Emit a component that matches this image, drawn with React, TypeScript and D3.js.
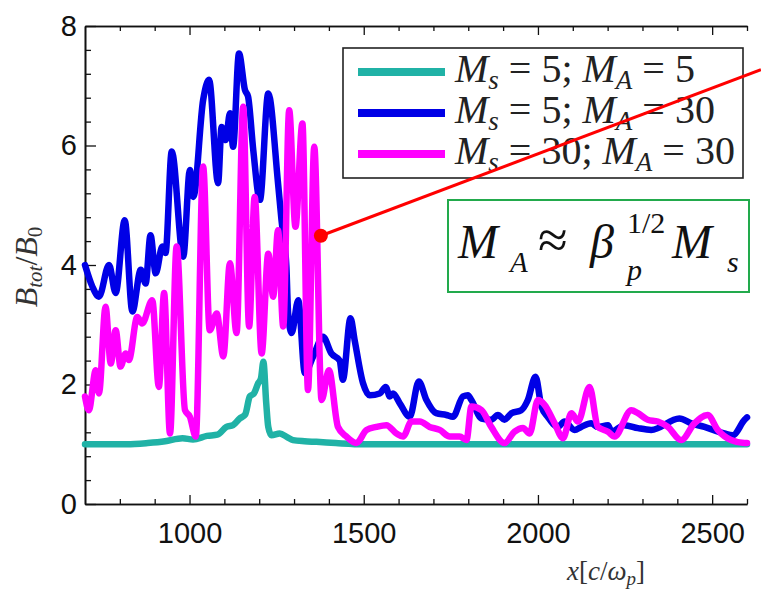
import { useEffect, useRef } from "react";
import * as d3 from "d3";

// x in c/omega_p, y = B_tot / B_0
const tealX = [700, 760, 820, 880, 930, 980, 1010, 1050, 1080, 1106, 1125, 1144, 1160, 1173, 1185, 1197, 1205, 1212, 1220, 1226, 1235, 1259, 1280, 1297, 1330, 1364, 1420, 1500, 1700, 1900, 2100, 2300, 2500, 2600];
const tealY = [1.0, 1.0, 1.0, 1.02, 1.05, 1.1, 1.08, 1.14, 1.16, 1.29, 1.32, 1.43, 1.5, 1.8, 1.85, 2.02, 2.1, 2.38, 1.7, 1.29, 1.15, 1.18, 1.12, 1.07, 1.05, 1.04, 1.02, 1.0, 1.0, 1.0, 1.0, 1.0, 1.0, 1.0];

const blueX = [700, 721, 740, 769, 788, 814, 836, 860, 874, 888, 903, 922, 931, 949, 982, 1001, 1011, 1039, 1056, 1082, 1092, 1104, 1116, 1125, 1142, 1159, 1168, 1183, 1202, 1226, 1254, 1264, 1278, 1283, 1293, 1312, 1331, 1355, 1383, 1407, 1431, 1440, 1462, 1474, 1498, 1517, 1546, 1563, 1575, 1584, 1603, 1632, 1658, 1680, 1708, 1737, 1756, 1785, 1799, 1809, 1838, 1866, 1885, 1904, 1924, 1952, 1971, 1993, 2010, 2028, 2057, 2076, 2105, 2124, 2153, 2172, 2201, 2211, 2248, 2287, 2325, 2406, 2440, 2478, 2535, 2559, 2593, 2600];
const blueY = [4.0, 3.64, 3.47, 4.0, 3.53, 4.75, 3.22, 3.92, 3.69, 4.5, 3.86, 4.31, 4.2, 5.9, 4.14, 5.59, 5.14, 6.76, 7.1, 5.37, 6.31, 6.09, 6.54, 5.98, 7.54, 6.93, 6.82, 5.92, 5.09, 6.87, 5.37, 4.75, 3.97, 3.19, 2.86, 3.41, 2.19, 2.47, 2.8, 2.52, 2.4, 2.08, 3.11, 2.74, 2.02, 1.82, 1.85, 1.96, 1.8, 1.85, 1.69, 1.46, 2.05, 1.74, 1.52, 1.49, 1.46, 1.8, 1.82, 1.74, 1.43, 1.41, 1.49, 1.41, 1.52, 1.57, 1.74, 2.13, 1.63, 1.46, 1.29, 1.38, 1.24, 1.29, 1.35, 1.29, 1.32, 1.21, 1.32, 1.27, 1.24, 1.43, 1.35, 1.29, 1.18, 1.15, 1.41, 1.45];

const magentaX = [700, 711, 731, 740, 759, 774, 788, 802, 817, 826, 850, 864, 893, 912, 927, 944, 963, 987, 1001, 1018, 1039, 1058, 1078, 1097, 1116, 1135, 1154, 1171, 1187, 1207, 1226, 1240, 1254, 1269, 1286, 1304, 1324, 1340, 1358, 1379, 1400, 1426, 1450, 1479, 1508, 1536, 1565, 1594, 1613, 1637, 1661, 1689, 1718, 1747, 1775, 1795, 1809, 1838, 1866, 1904, 1933, 1957, 1976, 2000, 2019, 2048, 2072, 2096, 2115, 2148, 2172, 2201, 2220, 2268, 2287, 2315, 2344, 2373, 2411, 2449, 2487, 2516, 2554, 2593, 2600];
const magentaY = [1.8, 1.57, 2.24, 1.85, 3.3, 2.35, 2.91, 2.3, 2.52, 2.41, 3.13, 3.02, 3.41, 1.96, 3.53, 1.18, 4.31, 1.57, 1.46, 1.13, 5.65, 2.91, 3.19, 2.47, 4.03, 2.86, 6.65, 2.97, 5.14, 2.52, 4.19, 3.47, 4.58, 2.97, 6.59, 4.64, 6.37, 1.91, 5.98, 1.74, 2.24, 1.29, 1.13, 1.02, 1.24, 1.29, 1.32, 1.18, 1.13, 1.38, 1.38, 1.29, 1.24, 1.13, 1.13, 1.07, 1.63, 1.57, 1.29, 1.02, 1.21, 1.27, 1.18, 1.74, 1.66, 1.35, 1.1, 1.52, 1.38, 1.96, 1.29, 1.21, 1.13, 1.57, 1.52, 1.41, 1.38, 1.29, 1.07, 1.35, 1.49, 1.24, 1.07, 1.02, 1.02];

const seriesColors = ["#20b2a6", "#0000e6", "#ff00ff"];
const legendMs = ["5", "5", "30"];
const legendMa = ["5", "30", "30"];

const xMajorTicks = [1000, 1500, 2000, 2500];
const xMinorTicks = d3.range(800, 2601, 100).filter((v) => v % 500 !== 0);
const yMajorTicks = [0, 2, 4, 6, 8];
const yMinorTicks = d3.range(0.4, 8, 0.4).filter((v) => Math.abs(v / 2 - Math.round(v / 2)) > 0.01);

// annotation arrow: dot on the magenta curve, line running off to the top right
const arrowFrom = { x: 1377, y: 4.49 };
const arrowTo = { x: 2640, y: 7.27 };

const SERIF = "'Liberation Serif', 'Times New Roman', Times, Tinos, 'Noto Serif', FreeSerif, 'Liberation Sans', sans-serif";

export default function App() {
  const svgRef = useRef<SVGSVGElement>(null);

  useEffect(() => {
    if (!svgRef.current) return;
    const svg = d3.select(svgRef.current);
    svg.selectAll("*").remove();

    const W = 761;
    const H = 597;
    const margin = { top: 26, right: 14, bottom: 93, left: 85 };

    const x = d3.scaleLinear().domain([700, 2600]).range([margin.left, W - margin.right]);
    const y = d3.scaleLinear().domain([0, 8]).range([H - margin.bottom, margin.top]);

    svg.append("rect").attr("width", W).attr("height", H).attr("fill", "#fff");

    const styleAxis = (g: any) => {
      g.select(".domain").attr("stroke", "#111").attr("stroke-width", 1.6);
      g.selectAll(".tick line").attr("stroke", "#111").attr("stroke-width", 1.3);
      g.selectAll("text")
        .attr("fill", "#111")
        .attr("font-family", "Liberation Sans")
        .attr("font-size", 29);
    };

    // bottom
    svg.append("g")
      .attr("transform", `translate(0,${y(0)})`)
      .call(d3.axisBottom(x).tickValues(xMinorTicks).tickSize(-5).tickSizeOuter(0).tickFormat(() => ""))
      .call(styleAxis);
    svg.append("g")
      .attr("transform", `translate(0,${y(0)})`)
      .call(d3.axisBottom(x).tickValues(xMajorTicks).tickSize(-9).tickSizeOuter(0).tickPadding(18).tickFormat(d3.format("d")))
      .call(styleAxis);

    // top
    svg.append("g")
      .attr("transform", `translate(0,${y(8)})`)
      .call(d3.axisTop(x).tickValues(xMinorTicks).tickSize(-5).tickSizeOuter(0).tickFormat(() => ""))
      .call(styleAxis);
    svg.append("g")
      .attr("transform", `translate(0,${y(8)})`)
      .call(d3.axisTop(x).tickValues(xMajorTicks).tickSize(-9).tickSizeOuter(0).tickFormat(() => ""))
      .call(styleAxis);

    // left
    svg.append("g")
      .attr("transform", `translate(${x(700)},0)`)
      .call(d3.axisLeft(y).tickValues(yMinorTicks).tickSize(-6).tickSizeOuter(0).tickFormat(() => ""))
      .call(styleAxis);
    svg.append("g")
      .attr("transform", `translate(${x(700)},0)`)
      .call(d3.axisLeft(y).tickValues(yMajorTicks).tickSize(-11).tickSizeOuter(0).tickPadding(8).tickFormat(d3.format("d")))
      .call(styleAxis);

    // curves
    const line = d3
      .line<[number, number]>()
      .x((d) => x(d[0]))
      .y((d) => y(d[1]))
      .curve(d3.curveMonotoneX);

    const series = [
      d3.zip(tealX, tealY) as [number, number][],
      d3.zip(blueX, blueY) as [number, number][],
      d3.zip(magentaX, magentaY) as [number, number][],
    ];

    svg.append("g")
      .selectAll("path")
      .data(series)
      .enter()
      .append("path")
      .attr("d", (d) => line(d))
      .attr("fill", "none")
      .attr("stroke", (_d, i) => seriesColors[i])
      .attr("stroke-width", 6.5)
      .attr("stroke-linejoin", "round")
      .attr("stroke-linecap", "round");

    // legend
    const legend = svg.append("g");
    legend.append("rect")
      .attr("x", 343).attr("y", 48).attr("width", 400).attr("height", 130)
      .attr("fill", "#fff").attr("stroke", "#222").attr("stroke-width", 1.6);

    legendMs.forEach((ms, i) => {
      const ly = 72 + i * 41;
      legend.append("line")
        .attr("x1", 358).attr("x2", 445).attr("y1", ly).attr("y2", ly)
        .attr("stroke", seriesColors[i]).attr("stroke-width", 8);
      const t = legend.append("text")
        .attr("x", 455).attr("y", ly + 10)
        .style("font-family", SERIF)
        .attr("font-size", 40)
        .attr("fill", "#222");
      t.append("tspan").attr("font-style", "italic").text("M");
      t.append("tspan").attr("font-style", "italic").attr("font-size", 27).attr("dy", 7).text("s");
      t.append("tspan").attr("dy", -7).text(` = ${ms}; `);
      t.append("tspan").attr("font-style", "italic").text("M");
      t.append("tspan").attr("font-style", "italic").attr("font-size", 27).attr("dy", 7).text("A");
      t.append("tspan").attr("dy", -7).text(` = ${legendMa[i]}`);
    });

    // formula box
    const box = svg.append("g").style("font-family", SERIF).attr("fill", "#111");
    box.append("rect")
      .attr("x", 448).attr("y", 200).attr("width", 301).attr("height", 92)
      .attr("fill", "#fff").attr("stroke", "#22aa4c").attr("stroke-width", 2);
    box.append("text").attr("x", 458).attr("y", 258).attr("font-size", 48).attr("font-style", "italic").text("M");
    box.append("text").attr("x", 510).attr("y", 272).attr("font-size", 29).attr("font-style", "italic").text("A");
    box.append("text").attr("x", 538).attr("y", 258).attr("font-size", 54).text("≈");
    box.append("text").attr("x", 590).attr("y", 258).attr("font-size", 48).attr("font-style", "italic").text("β");
    box.append("text").attr("x", 627).attr("y", 233).attr("font-size", 30).text("1/2");
    box.append("text").attr("x", 627).attr("y", 280).attr("font-size", 30).attr("font-style", "italic").text("p");
    box.append("text").attr("x", 672).attr("y", 258).attr("font-size", 48).attr("font-style", "italic").text("M");
    box.append("text").attr("x", 727).attr("y", 272).attr("font-size", 30).attr("font-style", "italic").text("s");

    // annotation
    svg.append("line")
      .attr("x1", x(arrowFrom.x)).attr("y1", y(arrowFrom.y))
      .attr("x2", x(arrowTo.x)).attr("y2", y(arrowTo.y))
      .attr("stroke", "#f00").attr("stroke-width", 3);
    svg.append("circle")
      .attr("cx", x(arrowFrom.x)).attr("cy", y(arrowFrom.y)).attr("r", 7)
      .attr("fill", "#f00");

    // axis titles
    const yl = svg.append("text")
      .attr("transform", `translate(37,${(y(0) + y(8)) / 2 + 2}) rotate(-90)`)
      .attr("text-anchor", "middle")
      .style("font-family", SERIF)
      .attr("font-size", 32)
      .attr("fill", "#333");
    yl.append("tspan").attr("font-style", "italic").text("B");
    yl.append("tspan").attr("font-style", "italic").attr("font-size", 21).attr("dy", 5).text("tot");
    yl.append("tspan").attr("dy", -5).text("/");
    yl.append("tspan").attr("font-style", "italic").text("B");
    yl.append("tspan").attr("font-size", 21).attr("dy", 5).text("0");

    const xl = svg.append("text")
      .attr("x", 606).attr("y", 580)
      .attr("text-anchor", "middle")
      .style("font-family", SERIF)
      .attr("font-size", 27)
      .attr("fill", "#333");
    xl.append("tspan").attr("font-style", "italic").text("x");
    xl.append("tspan").text("[");
    xl.append("tspan").attr("font-style", "italic").text("c");
    xl.append("tspan").text("/");
    xl.append("tspan").attr("font-style", "italic").text("ω");
    xl.append("tspan").attr("font-style", "italic").attr("font-size", 19).attr("dy", 5).text("p");
    xl.append("tspan").attr("dy", -5).text("]");
  }, []);

  return (
    <div style={{ position: "absolute", left: 0, top: 0 }}>
      <svg ref={svgRef} width={761} height={597} style={{ display: "block" }} />
    </div>
  );
}
